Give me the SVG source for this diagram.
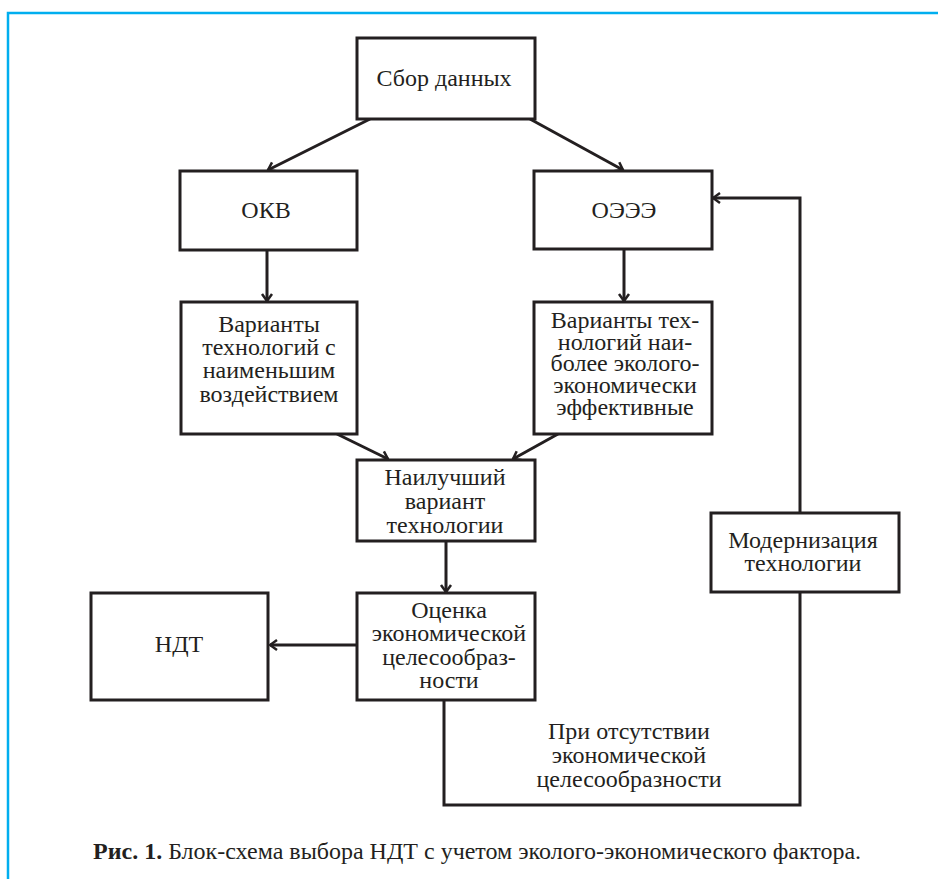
<svg xmlns="http://www.w3.org/2000/svg" width="938" height="879" viewBox="0 0 938 879">
<style>
.box{fill:#fff;stroke:#231f20;stroke-width:3}
.t{font-family:"Liberation Serif","Times New Roman",serif;font-size:24px;fill:#231f20;text-anchor:middle}
.c{fill:none;stroke:#231f20;stroke-width:3}
.cap{font-family:"Liberation Serif","Times New Roman",serif;font-size:24px;fill:#231f20}
</style>
<defs>
<marker id="arr" markerUnits="userSpaceOnUse" markerWidth="12" markerHeight="14" viewBox="-10 -7 12 14" refX="0" refY="0" orient="auto">
<path d="M-7,-5 L0,0 L-7,5" fill="none" stroke="#231f20" stroke-width="2.5"/>
</marker>
</defs>
<rect width="938" height="879" fill="#fff"/>
<path d="M8,879 V13 H938" fill="none" stroke="#00AEEF" stroke-width="2.5"/>

<g id="connectors">
<line class="c" x1="370" y1="119" x2="268" y2="170" marker-end="url(#arr)"/>
<line class="c" x1="530" y1="119" x2="623" y2="170" marker-end="url(#arr)"/>
<line class="c" x1="267" y1="250" x2="267" y2="301" marker-end="url(#arr)"/>
<line class="c" x1="624" y1="249" x2="624" y2="301" marker-end="url(#arr)"/>
<line class="c" x1="337" y1="434" x2="388" y2="459" marker-end="url(#arr)"/>
<line class="c" x1="558" y1="434" x2="513" y2="459" marker-end="url(#arr)"/>
<line class="c" x1="446" y1="541" x2="446" y2="592" marker-end="url(#arr)"/>
<line class="c" x1="357" y1="645" x2="270" y2="645" marker-end="url(#arr)"/>
<path class="c" d="M444,700 V805 H800 V592"/>
<path class="c" d="M800,513 V198 H713" marker-end="url(#arr)"/>
</g>

<g id="sbor">
<rect class="box" x="357" y="38" width="178" height="81"/>
<text class="t" x="444" y="86">Сбор данных</text>
</g>
<g id="okv">
<rect class="box" x="180" y="171" width="177" height="79"/>
<text class="t" x="266" y="218">ОКВ</text>
</g>
<g id="oeee">
<rect class="box" x="534" y="171" width="178" height="78"/>
<text class="t" x="624" y="218">ОЭЭЭ</text>
</g>
<g id="var-left">
<rect class="box" x="181" y="302" width="176" height="132"/>
<text class="t" x="269" y="332">Варианты</text>
<text class="t" x="269" y="355">технологий с</text>
<text class="t" x="269" y="378">наименьшим</text>
<text class="t" x="269" y="402">воздействием</text>
</g>
<g id="var-right">
<rect class="box" x="534" y="302" width="178" height="132"/>
<text class="t" x="625" y="328">Варианты тех-</text>
<text class="t" x="625" y="350">нологий наи-</text>
<text class="t" x="625" y="371">более эколого-</text>
<text class="t" x="625" y="393">экономически</text>
<text class="t" x="625" y="415">эффективные</text>
</g>
<g id="best">
<rect class="box" x="357" y="460" width="178" height="81"/>
<text class="t" x="445" y="485">Наилучший</text>
<text class="t" x="445" y="509">вариант</text>
<text class="t" x="445" y="533">технологии</text>
</g>
<g id="ocenka">
<rect class="box" x="357" y="593" width="178" height="107"/>
<text class="t" x="449" y="618">Оценка</text>
<text class="t" x="449" y="641">экономической</text>
<text class="t" x="449" y="665">целесообраз-</text>
<text class="t" x="449" y="688">ности</text>
</g>
<g id="ndt">
<rect class="box" x="91" y="593" width="177" height="107"/>
<text class="t" x="179" y="652">НДТ</text>
</g>
<g id="modern">
<rect class="box" x="711" y="513" width="188" height="79"/>
<text class="t" x="803" y="548">Модернизация</text>
<text class="t" x="803" y="571">технологии</text>
</g>
<g id="label">
<text class="t" x="629" y="739">При отсутствии</text>
<text class="t" x="629" y="763">экономической</text>
<text class="t" x="629" y="787">целесообразности</text>
</g>
<text class="cap" x="93" y="859"><tspan font-weight="bold">Рис. 1.</tspan> Блок-схема выбора НДТ с учетом эколого-экономического фактора.</text>
</svg>
